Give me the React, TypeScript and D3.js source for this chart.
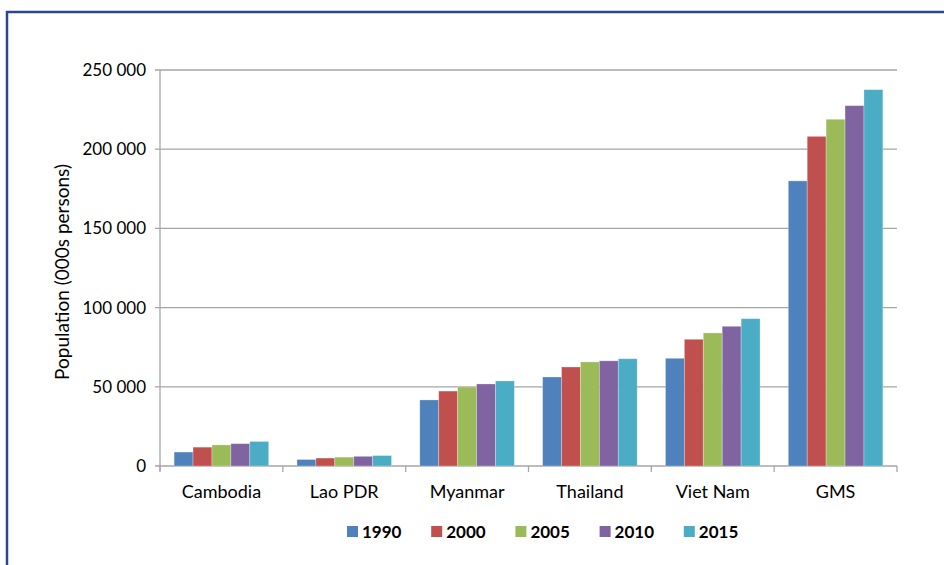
import React from "react";
import * as d3 from "d3";

const categories = ["Cambodia", "Lao PDR", "Myanmar", "Thailand", "Viet Nam", "GMS"];
const years = ["1990", "2000", "2005", "2010", "2015"];
const colors = ["#4F81BD", "#C0504D", "#9BBB59", "#8064A2", "#4BACC6"];
const values1990 = [8800, 4100, 41700, 56200, 68000, 180000];
const values2000 = [11900, 5000, 47300, 62500, 80000, 208100];
const values2005 = [13300, 5600, 49900, 65700, 84000, 218900];
const values2010 = [14100, 6100, 51800, 66400, 88200, 227500];
const values2015 = [15500, 6600, 53700, 67700, 93000, 237600];
const seriesValues = [values1990, values2000, values2005, values2010, values2015];
const yTicks = [0, 50000, 100000, 150000, 200000, 250000];

export default function App() {
  const W = 944, H = 565;
  const left = 160, right = 897, top = 70, bottom = 466;
  const font = "Lato, 'Open Sans', sans-serif";
  const y = d3.scaleLinear().domain([0, 250000]).range([bottom, top]);
  const x0 = d3.scaleBand<string>().domain(categories).range([left, right]).padding(0);
  const cw = x0.bandwidth();
  const gap = cw * 0.115;
  const x1 = d3.scaleBand<string>().domain(years).range([gap, cw - gap]).padding(0);
  const fmt = (v: number) => d3.format(",")(v).replace(/,/g, " ");
  const gridColor = "#a6a6a6";
  return (
    <svg width={W} height={H} style={{ position: "absolute", left: 0, top: 0, background: "#fff" }}>
      <rect x={7} y={12} width={960} height={600} fill="#fff" stroke="#2c4696" strokeWidth={2.5} />
      {yTicks.map((t) => (
        <g key={t}>
          <line x1={left - 5} x2={right} y1={y(t)} y2={y(t)} stroke={gridColor} strokeWidth={1.3} />
          <text x={146} y={y(t)} dy="0.35em" textAnchor="end" fontFamily={font} fontSize={17} fill="#000">
            {fmt(t)}
          </text>
        </g>
      ))}
      <line x1={left} x2={left} y1={top} y2={bottom + 5} stroke={gridColor} strokeWidth={1.3} />
      {d3.range(categories.length + 1).map((i) => {
        const xx = left + i * cw;
        return <line key={i} x1={xx} x2={xx} y1={bottom} y2={bottom + 6} stroke={gridColor} strokeWidth={1.3} />;
      })}
      {seriesValues.map((vals, si) =>
        vals.map((v, ci) => {
          const bx = (x0(categories[ci]) as number) + (x1(years[si]) as number);
          const bw = x1.bandwidth();
          return (
            <rect key={`${si}-${ci}`} x={bx} y={y(v)} width={bw} height={bottom - y(v)} fill={colors[si]} stroke="#fff" strokeOpacity={0.35} strokeWidth={0.8} />
          );
        })
      )}
      {categories.map((c) => (
        <text key={c} x={(x0(c) as number) + cw / 2} y={498} textAnchor="middle" fontFamily={font} fontSize={18} fill="#000">
          {c}
        </text>
      ))}
      <text
        transform={`translate(69, 272) rotate(-90)`}
        textAnchor="middle"
        fontFamily={font}
        fontSize={19}
        fill="#000"
      >
        Population (000s persons)
      </text>
      {years.map((yr, i) => {
        const lx = 347 + i * 84.2;
        return (
          <g key={yr}>
            <rect x={lx} y={526} width={11} height={11} fill={colors[i]} />
            <text x={lx + 15} y={537.5} fontFamily={font} fontSize={17} fontWeight="bold" fill="#000">
              {yr}
            </text>
          </g>
        );
      })}
    </svg>
  );
}
